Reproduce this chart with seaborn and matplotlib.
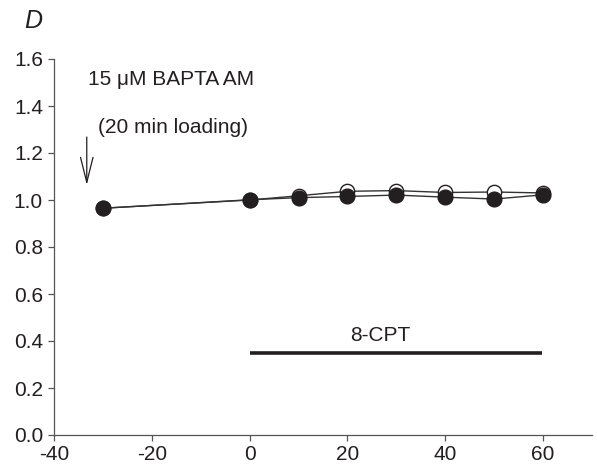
import matplotlib
matplotlib.use("Agg")
import matplotlib.pyplot as plt
import seaborn as sns
import pandas as pd

time_min = [-30, 0, 10, 20, 30, 40, 50, 60]
open_vals = [0.965, 1.0, 1.018, 1.037, 1.040, 1.032, 1.034, 1.030]
filled_vals = [0.965, 1.001, 1.010, 1.015, 1.021, 1.012, 1.004, 1.022]
xticks = [-40, -20, 0, 20, 40, 60]
yticks = [0.0, 0.2, 0.4, 0.6, 0.8, 1.0, 1.2, 1.4, 1.6]
bar_start, bar_end, bar_y = 0, 59.8, 0.35

sns.set_theme(style="ticks")
plt.rcParams['font.family'] = ['Liberation Sans', 'DejaVu Sans']

fig = plt.figure(figsize=(5.97, 4.72), dpi=100)
ax = fig.add_axes([54 / 597, 37 / 472, 538 / 597, 376 / 472])

df_open = pd.DataFrame({"t": time_min, "v": open_vals})
df_fill = pd.DataFrame({"t": time_min, "v": filled_vals})

ink = "#231f20"
sns.lineplot(data=df_open, x="t", y="v", ax=ax, color="#333333", lw=1.0,
             marker="o", markersize=10.3, markerfacecolor="white",
             markeredgecolor=ink, markeredgewidth=1.0)
sns.lineplot(data=df_fill, x="t", y="v", ax=ax, color="#333333", lw=1.0,
             marker="o", markersize=10.6, markerfacecolor=ink,
             markeredgecolor=ink, markeredgewidth=1.0)

ax.plot([bar_start, bar_end], [bar_y, bar_y], color=ink, lw=2.6, solid_capstyle="butt")
ax.text(26.8, 0.401, "8-CPT", ha="center", va="baseline", fontsize=15, color=ink)

ax.text(-33.1, 1.489, "15 μM BAPTA AM", ha="left", va="baseline", fontsize=15, color=ink)
ax.text(-31.1, 1.284, "(20 min loading)", ha="left", va="baseline", fontsize=15, color=ink)
ax.annotate("", xy=(-33.3, 1.064), xytext=(-33.3, 1.268),
            arrowprops=dict(arrowstyle="->, head_length=1.8, head_width=0.45",
                            color=ink, lw=0.9, mutation_scale=10,
                            shrinkA=0, shrinkB=0))

fig.text(24 / 597, 1 - 28 / 472, "D", fontsize=18, style="italic",
         ha="left", va="baseline", color=ink)

ax.set_xlim(-40, 70)
ax.set_ylim(0, 1.6)
ax.set_xticks(xticks)
ax.set_xticklabels([str(t) for t in xticks])
ax.set_yticks(yticks)
ax.set_yticklabels([f"{v:.1f}" for v in yticks])
ax.set_xlabel("")
ax.set_ylabel("")
for s in ["top", "right"]:
    ax.spines[s].set_visible(False)
for s in ["left", "bottom"]:
    ax.spines[s].set_color("#555555")
    ax.spines[s].set_linewidth(0.9)
ax.tick_params(axis="both", direction="out", length=4, width=0.9, color="#555555",
               labelsize=15, labelcolor=ink)
ax.tick_params(axis="x", pad=3.5)
ax.tick_params(axis="y", pad=4)

fig.savefig("out.png", dpi=100)
